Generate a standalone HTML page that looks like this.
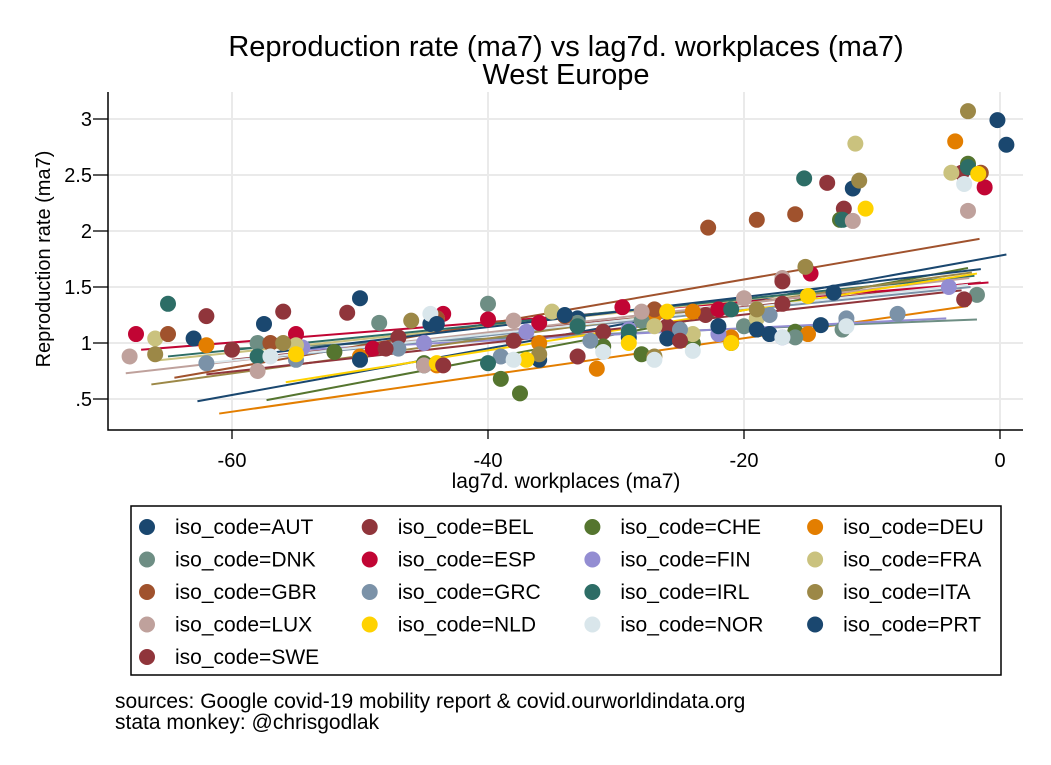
<!DOCTYPE html>
<html><head><meta charset="utf-8"><style>
html,body{margin:0;padding:0;background:#fff;}
svg{display:block;font-family:"Liberation Sans",Arial,sans-serif;}
</style></head><body>
<svg id="chart" width="1051" height="765" viewBox="0 0 1051 765">
<rect width="1051" height="765" fill="#fff"/>
<text x="566" y="56" text-anchor="middle" font-size="29">Reproduction rate (ma7) vs lag7d. workplaces (ma7)</text>
<text x="566" y="84" text-anchor="middle" font-size="29">West Europe</text>
<g id="grid"></g><g id="fits"></g><g id="pts"></g><g id="axes"></g><g id="legend"></g>
<text x="566" y="488" text-anchor="middle" font-size="21">lag7d. workplaces (ma7)</text>
<text transform="translate(50,259) rotate(-90)" text-anchor="middle" font-size="20">Reproduction rate (ma7)</text>
<text x="115" y="708" font-size="21">sources: Google covid-19 mobility report &amp; covid.ourworldindata.org</text>
<text x="115" y="729" font-size="21">stata monkey: @chrisgodlak</text>
</svg>
<script>
const countries=["AUT","BEL","CHE","DEU","DNK","ESP","FIN","FRA","GBR","GRC","IRL","ITA","LUX","NLD","NOR","PRT","SWE"];
const colors=["#1a476f","#90353b","#55752f","#e37e00","#6e8e84","#c10534","#938dd2","#cac27e","#a0522d","#7b92a8","#2d6d66","#9c8847","#bfa19c","#ffd200","#d9e6eb","#1a476f","#90353b"];
const xTicks=[-60,-40,-20,0];
const xTickLabels=["-60","-40","-20","0"];
const yTicks=[0.5,1,1.5,2,2.5,3];
const yTickLabels=[".5","1","1.5","2","2.5","3"];
const ptsX={
AUT:[-0.2,-11.5,-50,-57.5,-63,-44.5,-33,-25,-18,-14,-36,-29,-21],
BEL:[-13.5,-12.2,-38,-31,-23,-17,-47,-60,-26,-3],
CHE:[-2.5,-39,-37.5,-12.5,-45,-31,-24,-16,-52,-28],
DEU:[-3.5,-31.5,-62,-44,-36,-27,-21,-15,-50,-24],
DNK:[-40,-48.5,-1.8,-12.3,-58,-28,-20,-16,-33],
ESP:[-1.2,-67.5,-14.8,-55,-43.5,-40,-29.5,-22,-36,-49],
FIN:[-4,-17,-29,-37,-54.5,-22,-12,-45],
FRA:[-11.3,-3.8,-66,-44,-35,-27,-19,-55,-24],
GBR:[-1.5,-19,-16,-22.8,-65,-44,-34,-27,-57],
GRC:[-8,-12,-39,-32,-25,-18,-55,-47,-62],
IRL:[-2.5,-15.3,-12.3,-65,-45,-40,-29,-21,-33,-58],
ITA:[-2.5,-11,-15.2,-66,-46,-36,-27,-19,-56],
LUX:[-11.5,-2.5,-68,-45,-38,-28,-20,-17,-58],
NLD:[-1.7,-10.5,-44,-37,-29,-21,-15,-55,-26],
NOR:[-2.8,-44.5,-38,-31,-24,-17,-57,-27,-12],
PRT:[0.5,-19,-26,-34,-44,-22,-13,-50],
SWE:[-62,-56,-51,-43.5,-33,-25,-17,-2.8,-48]};
const ptsY={
AUT:[2.99,2.38,1.40,1.17,1.04,1.17,1.22,1.10,1.08,1.16,0.85,1.05,1.0],
BEL:[2.43,2.2,1.02,1.10,1.25,1.35,1.05,0.94,1.15,2.52],
CHE:[2.60,0.68,0.55,2.10,0.82,0.97,1.00,1.10,0.92,0.90],
DEU:[2.80,0.77,0.98,0.80,1.00,1.25,1.05,1.08,0.88,1.28],
DNK:[1.35,1.18,1.43,1.12,1.00,1.20,1.15,1.05,1.18],
ESP:[2.39,1.08,1.62,1.08,1.26,1.21,1.32,1.30,1.18,0.95],
FIN:[1.50,1.05,1.12,1.10,0.96,1.08,1.18,1.00],
FRA:[2.78,2.52,1.04,1.22,1.28,1.15,1.22,0.98,1.08],
GBR:[2.52,2.10,2.15,2.03,1.08,1.22,1.24,1.30,1.00],
GRC:[1.26,1.22,0.88,1.02,1.12,1.25,0.85,0.95,0.82],
IRL:[2.57,2.47,2.10,1.35,0.80,0.82,1.10,1.30,1.15,0.88],
ITA:[3.07,2.45,1.68,0.90,1.20,0.90,0.88,1.30,1.00],
LUX:[2.09,2.18,0.88,0.80,1.20,1.28,1.40,1.58,0.75],
NLD:[2.51,2.20,0.82,0.85,1.00,1.00,1.42,0.90,1.28],
NOR:[2.42,1.26,0.85,0.92,0.93,1.05,0.88,0.85,1.15],
PRT:[2.77,1.12,1.04,1.25,1.17,1.15,1.45,0.85],
SWE:[1.24,1.28,1.27,0.80,0.88,1.02,1.55,1.39,0.95]};
const fitX1=[-62.7,-60,-57.3,-61,-60,-67.1,-54.6,-66.2,-64.5,-58,-65,-66.3,-68.3,-55.8,-62,-58,-62];
const fitY1=[0.48,0.85,0.49,0.37,0.95,0.94,0.94,0.84,0.69,0.86,0.88,0.63,0.73,0.65,0.82,0.90,0.72];
const fitX2=[0.5,-1.5,-2.5,-2.5,-1.8,-0.9,-4.2,-2,-1.6,-2.3,-2,-2.2,-2.4,-1.8,-2.5,-1.5,-3];
const fitY2=[1.79,1.54,1.67,1.33,1.21,1.54,1.22,1.60,1.93,1.50,1.60,1.63,1.58,1.62,1.52,1.66,1.47];
const NS="http://www.w3.org/2000/svg";
const X0=108,X1=1023,Y0=92,Y1=430;
function sx(v){return 1000+v*12.8;}
function sy(v){return 119+(3-v)*112;}
function mk(tag,attrs,parent){const e=document.createElementNS(NS,tag);for(const k in attrs)e.setAttribute(k,attrs[k]);parent.appendChild(e);return e;}
const grid=document.getElementById('grid'),axes=document.getElementById('axes'),fits=document.getElementById('fits'),pts=document.getElementById('pts'),leg=document.getElementById('legend');
xTicks.forEach((t,i)=>{
 const g=mk('line',{x1:sx(t),x2:sx(t),y1:Y0,y2:Y1,stroke:'#eaeaea','stroke-width':2},grid);
 
 
 const tk=mk('line',{x1:sx(t),x2:sx(t),y1:Y1,y2:Y1+9,stroke:'#000','stroke-width':1.3},axes);
 
 
 const tx=mk('text',{x:sx(t),y:467,'text-anchor':'middle','font-size':20},axes);
 tx.textContent=xTickLabels[i];
 
 
});
yTicks.forEach((t,i)=>{
 const g=mk('line',{x1:X0,x2:X1,y1:sy(t),y2:sy(t),stroke:'#eaeaea','stroke-width':2},grid);
 
 
 const tk=mk('line',{x1:X0-15,x2:X0,y1:sy(t),y2:sy(t),stroke:'#000','stroke-width':1.3},axes);
 
 
 const tx=mk('text',{x:X0-16,y:sy(t)+7,'text-anchor':'end','font-size':20},axes);
 tx.textContent=yTickLabels[i];
 
 
});
const ax=mk('path',{d:`M${X0} ${Y0}V${Y1}H${X1}`,fill:'none',stroke:'#000','stroke-width':1.5},axes);


countries.forEach((c,i)=>{
 ptsX[c].forEach((xv,j)=>{
  const p=mk('circle',{cx:sx(xv),cy:sy(ptsY[c][j]),r:8,fill:colors[i]},pts);
  
  
 });
});
countries.forEach((c,i)=>{
 const l=mk('line',{x1:sx(fitX1[i]),y1:sy(fitY1[i]),x2:sx(fitX2[i]),y2:sy(fitY2[i]),stroke:colors[i],'stroke-width':2},fits);
 
 
});
const lb=mk('rect',{x:131,y:506,width:870,height:169,fill:'#fff',stroke:'#000','stroke-width':1.5},leg);


countries.forEach((c,i)=>{
 const col=i%4,row=Math.floor(i/4);
 const cx=147+col*222.7,cy=527+row*32.5;
 const g=mk('g',{},leg);
 
 
 mk('circle',{cx:cx,cy:cy,r:8,fill:colors[i]},g);
 const t=mk('text',{x:cx+28,y:cy+7,'font-size':21},g);
 t.textContent='iso_code='+c;
});
</script>
</body></html>
